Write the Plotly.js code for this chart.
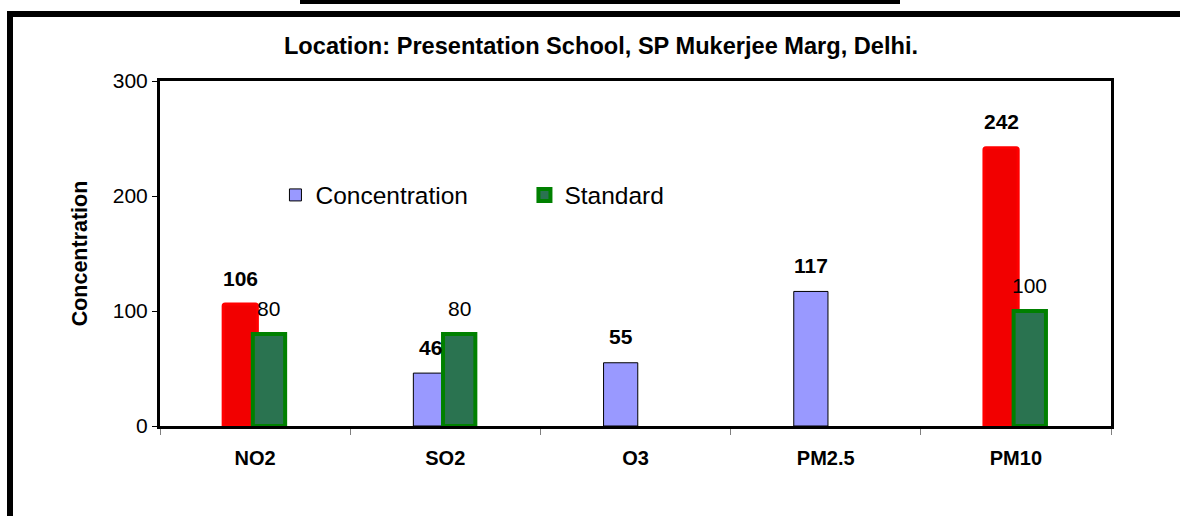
<!DOCTYPE html>
<html>
<head>
<meta charset="utf-8">
<script src="https://cdn.plot.ly/plotly-3.0.1.min.js"></script>
<style>
  body { margin: 0; background: #fff; }
  #topbar { position: absolute; left: 300px; top: 0; width: 600px; height: 4px; background: #000; }
  #frame { position: absolute; left: 7px; top: 11px; width: 1300px; height: 700px; border: 6px solid #000; }
  #plot { position: absolute; left: 0; top: 0; width: 1180px; height: 516px; }
</style>
</head>
<body>
<div id="topbar"></div>
<div id="frame"></div>
<div id="plot"></div>
<script>
const pollutants = ["NO2", "SO2", "O3", "PM2.5", "PM10"];
const concentration = [106, 46, 55, 117, 242];
const standard = [80, 80, null, null, 100];

const font = "Liberation Sans, Arial, sans-serif";

// bars above the standard are shown in red
const over = concentration.map((v, i) => standard[i] != null && v > standard[i]);
const blueVals = concentration.map((v, i) => (over[i] ? null : v));
const redVals = concentration.map((v, i) => (over[i] ? v : null));

const concOffset = -0.168, concWidth = 0.18;
const stdOffset = -0.012, stdWidth = 0.17;

var data = [
  {
    type: "bar",
    name: "Concentration",
    x: pollutants,
    y: blueVals,
    offset: concOffset,
    width: concWidth,
    marker: { color: "#9999ff", line: { color: "#000000", width: 1 } },
    hoverinfo: "x+y",
  },
  {
    type: "bar",
    name: "Concentration ",
    showlegend: false,
    x: pollutants,
    y: redVals,
    offset: concOffset,
    width: concWidth,
    marker: { color: "#f20000", line: { color: "#ff0000", width: 3 }, cornerradius: 2 },
    hoverinfo: "x+y",
  },
  {
    type: "bar",
    name: "Standard",
    x: pollutants,
    y: standard,
    offset: stdOffset,
    width: stdWidth,
    marker: { color: "#2a7350", line: { color: "#008000", width: 4 } },
    hoverinfo: "x+y",
  },
];

var annotations = [];
concentration.forEach((v, i) => {
  annotations.push({
    x: i + concOffset + concWidth / 2,
    y: v,
    text: String(v),
    showarrow: false,
    yanchor: "middle",
    yshift: 26,
    font: { family: font, size: 21, color: "#000", weight: "bold" },
  });
});
standard.forEach((v, i) => {
  if (v == null) return;
  annotations.push({
    x: i + stdOffset + stdWidth / 2,
    y: v,
    text: String(v),
    showarrow: false,
    yanchor: "middle",
    yshift: 26,
    font: { family: font, size: 21, color: "#000" },
  });
});

var layout = {
  width: 1180,
  height: 516,
  margin: { l: 160, r: 69, t: 81, b: 90 },
  paper_bgcolor: "rgba(0,0,0,0)",
  plot_bgcolor: "#ffffff",
  font: { family: font, color: "#000" },
  barmode: "overlay",
  title: {
    text: "Location: Presentation School, SP Mukerjee Marg, Delhi.",
    font: { family: font, size: 23.6, weight: "bold", color: "#000" },
    x: 601 / 1180,
    xanchor: "center",
    xref: "container",
    y: 1 - 46 / 516,
    yanchor: "middle",
    yref: "container",
  },
  showlegend: true,
  legend: {
    orientation: "h",
    x: 0.1214,
    y: 0.6696,
    yanchor: "middle",
    xanchor: "left",
    entrywidth: 204,
    bgcolor: "rgba(0,0,0,0)",
    font: { family: font, size: 24.5, color: "#000" },
  },
  xaxis: {
    type: "category",
    showline: true,
    linecolor: "#000",
    linewidth: 3,
    mirror: true,
    showgrid: false,
    ticks: "outside",
    tickson: "boundaries",
    ticklen: 6,
    tickcolor: "#808080",
    tickwidth: 1,
    ticklabelstandoff: 12,
    tickfont: { family: font, size: 20, weight: "bold", color: "#000" },
    fixedrange: true,
  },
  yaxis: {
    range: [0, 300],
    dtick: 100,
    showline: true,
    linecolor: "#000",
    linewidth: 3,
    mirror: true,
    showgrid: false,
    zeroline: false,
    ticks: "outside",
    ticklen: 5,
    tickcolor: "#000",
    tickfont: { family: font, size: 21, color: "#000" },
    title: {
      text: "Concentration",
      font: { family: font, size: 21.5, weight: "bold", color: "#000" },
      standoff: 20,
    },
    fixedrange: true,
  },
  annotations: annotations,
};

Plotly.newPlot("plot", data, layout, { displayModeBar: false, staticPlot: true });
</script>
</body>
</html>
